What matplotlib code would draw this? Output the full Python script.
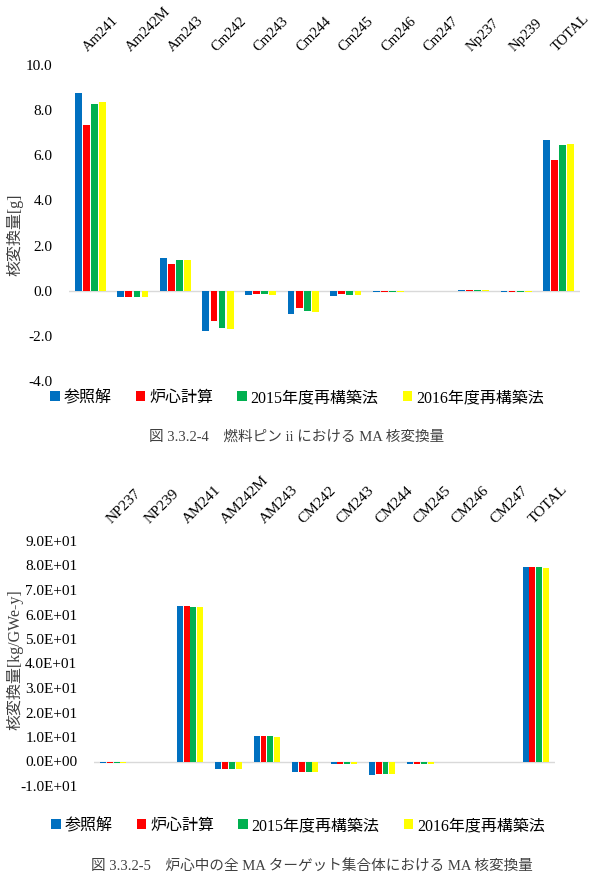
import matplotlib.pyplot as plt
from matplotlib.ticker import FuncFormatter
from matplotlib.transforms import ScaledTranslation
import numpy as np

plt.rcParams['font.family'] = ['Liberation Serif', 'Noto Sans CJK JP']

# Series names and colours
series = ['参照解', '炉心計算', '2015年度再構築法', '2016年度再構築法']
colors = ['#0070C0', '#FF0000', '#00B050', '#FFFF00']

# Chart 1: fuel pin ii [g]
nuc1 = ['Am241', 'Am242M', 'Am243', 'Cm242', 'Cm243', 'Cm244', 'Cm245',
        'Cm246', 'Cm247', 'Np237', 'Np239', 'TOTAL']
ref1 = [8.76, -0.28, 1.44, -1.78, -0.20, -1.02, -0.24, -0.06, -0.03, 0.02, -0.06, 6.68]
core1 = [7.35, -0.30, 1.19, -1.36, -0.13, -0.76, -0.13, -0.04, -0.01, 0.01, -0.04, 5.80]
r2015_1 = [8.27, -0.30, 1.36, -1.63, -0.16, -0.90, -0.19, -0.05, -0.01, 0.01, -0.05, 6.46]
r2016_1 = [8.36, -0.30, 1.36, -1.69, -0.19, -0.93, -0.19, -0.05, -0.01, 0.01, -0.05, 6.50]

# Chart 2: all MA target assemblies in core [kg/GWe-y]
nuc2 = ['NP237', 'NP239', 'AM241', 'AM242M', 'AM243', 'CM242', 'CM243',
        'CM244', 'CM245', 'CM246', 'CM247', 'TOTAL']
ref2 = [-0.6, -0.1, 63.6, -2.9, 10.3, -4.3, -0.9, -5.4, -0.9, -0.2, -0.05, 79.4]
core2 = [-0.6, -0.1, 63.3, -2.9, 10.3, -4.2, -0.9, -5.3, -0.9, -0.2, -0.05, 79.3]
r2015_2 = [-0.6, -0.1, 63.1, -2.9, 10.3, -4.2, -0.9, -5.3, -0.9, -0.2, -0.05, 79.3]
r2016_2 = [-0.6, -0.1, 63.0, -2.9, 10.2, -4.2, -0.9, -5.3, -0.9, -0.2, -0.05, 79.0]

W, H = 600, 893
fig = plt.figure(figsize=(6, 8.93), dpi=100)


def px_axes(x0, y_top, x1, y_bot):
    return fig.add_axes([x0 / W, 1 - y_bot / H, (x1 - x0) / W, (y_bot - y_top) / H])


def draw_bars(ax, names, data, bw, step, pad, fs):
    x = np.arange(len(names))
    ax.axhline(0, color='#d9d9d9', lw=1.0, zorder=1)
    for i, (vals, c) in enumerate(zip(data, colors)):
        ax.bar(x + (i - 1.5) * step, vals, bw, color=c, label=series[i], zorder=2)
    ax.set_xlim(-0.5, len(names) - 0.5)
    ax.xaxis.tick_top()
    ax.set_xticks(x)
    ax.set_xticklabels(names, rotation=45, ha='left', va='bottom',
                       rotation_mode='anchor', fontsize=fs)
    shift = ScaledTranslation(4 / 72, 0, fig.dpi_scale_trans)
    for lab in ax.get_xticklabels():
        lab.set_transform(lab.get_transform() + shift)
    ax.tick_params(axis='x', length=0, pad=pad)
    ax.tick_params(axis='y', length=0, labelsize=11)
    for s in ax.spines.values():
        s.set_visible(False)


def add_legend(ax, cx, cy):
    h, l = ax.get_legend_handles_labels()
    fig.legend(h, l, loc='center', bbox_to_anchor=(cx / W, 1 - cy / H), ncol=4,
               frameon=False, handlelength=0.6, handleheight=0.6, handletextpad=0.25,
               columnspacing=1.5, fontsize=11.5)


# --- chart 1
ax1 = px_axes(69, 65, 580, 381)
draw_bars(ax1, nuc1, [ref1, core1, r2015_1, r2016_1], 0.16, 0.19, pad=8, fs=10.5)
ax1.set_ylim(-4, 10)
ax1.set_yticks(np.arange(-4, 10.1, 2))
ax1.yaxis.set_major_formatter(FuncFormatter(lambda v, p: f'{v:.1f}'))
ax1.tick_params(axis='y', pad=12)
fig.text(15 / W, 1 - 235 / H, '核変換量[g]', rotation=90, ha='center', va='center',
         fontsize=11.5, color='#404040')
add_legend(ax1, 297, 398)
fig.text(297 / W, 1 - 437 / H, '図 3.3.2-4　燃料ピン ii における MA 核変換量',
         ha='center', va='center', fontsize=10.5, color='#404040')

# --- chart 2
ax2 = px_axes(94, 541, 555, 786)
draw_bars(ax2, nuc2, [ref2, core2, r2015_2, r2016_2], 0.155, 0.175, pad=11, fs=11)
ax2.set_ylim(-10, 90)
ax2.set_yticks(np.arange(-10, 90.1, 10))
ax2.yaxis.set_major_formatter(FuncFormatter(lambda v, p: f'{v:.1E}'))
ax2.tick_params(axis='y', pad=12)
fig.text(15 / W, 1 - 660 / H, '核変換量[kg/GWe-y]', rotation=90, ha='center', va='center',
         fontsize=11.5, color='#404040')
add_legend(ax2, 298, 826)
fig.text(312 / W, 1 - 866 / H, '図 3.3.2-5　炉心中の全 MA ターゲット集合体における MA 核変換量',
         ha='center', va='center', fontsize=10.5, color='#404040')

fig.savefig('out.png', dpi=100)
